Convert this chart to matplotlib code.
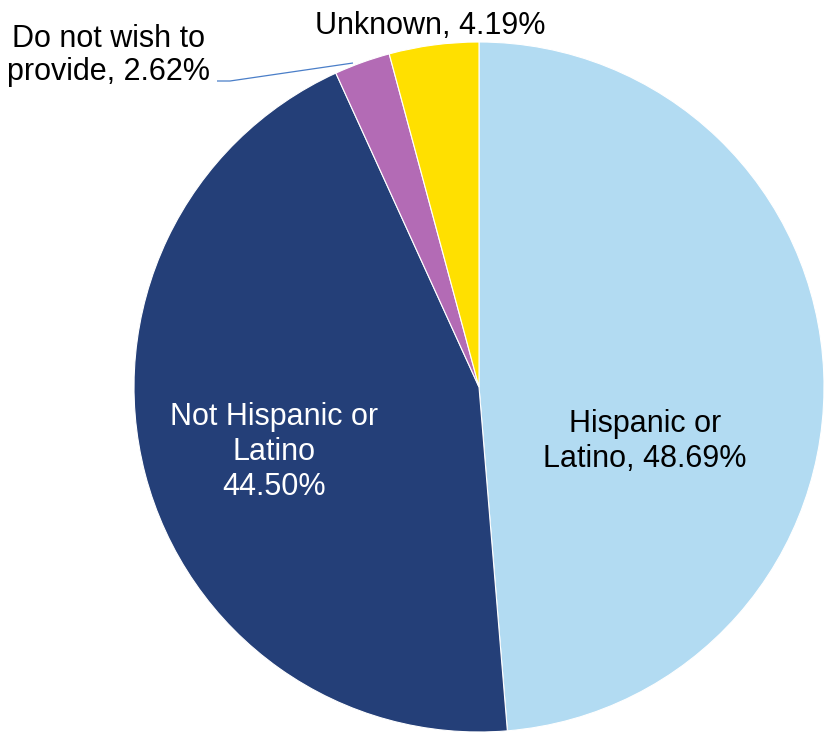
import matplotlib.pyplot as plt

# Ethnicity breakdown (clockwise from 12 o'clock)
labels = ['Hispanic or\nLatino, 48.69%', 'Not Hispanic or\nLatino\n44.50%',
          'Do not wish to\nprovide, 2.62%', 'Unknown, 4.19%']
values = [48.69, 44.50, 2.62, 4.19]
colors = ['#B2DBF2', '#243F78', '#B36BB5', '#FFE000']

plt.rcParams['font.family'] = ['Liberation Sans', 'DejaVu Sans']

W, H = 824, 733
fig = plt.figure(figsize=(W / 100, H / 100), dpi=100)
ax = fig.add_axes([0, 0, 1, 1])

cx, cy, r = 479, H - 387, 345
ax.pie(values, colors=colors, startangle=90, counterclock=False,
       center=(cx, cy), radius=r, frame=True,
       wedgeprops=dict(edgecolor='white', linewidth=0.8))
ax.set_xlim(0, W)
ax.set_ylim(0, H)
ax.set_aspect('equal')
ax.axis('off')

fs = 22
# last-line baselines
ax.text(645, H - 467, labels[0], ha='center', va='baseline', fontsize=fs,
        color='black', linespacing=1.22)
ax.text(274.5, H - 495, labels[1], ha='center', va='baseline', fontsize=fs,
        color='white', linespacing=1.22)
ax.text(109, H - 80, labels[2], ha='center', va='baseline', fontsize=fs,
        color='black', linespacing=1.15)
ax.text(430, H - 34, labels[3], ha='center', va='baseline', fontsize=fs,
        color='black')

# leader line for the small slice
ax.plot([217, 230, 353], [H - 81, H - 81, H - 63], color='#4A7EC8',
        linewidth=0.9, solid_capstyle='butt')

fig.savefig('out.png', dpi=100)
